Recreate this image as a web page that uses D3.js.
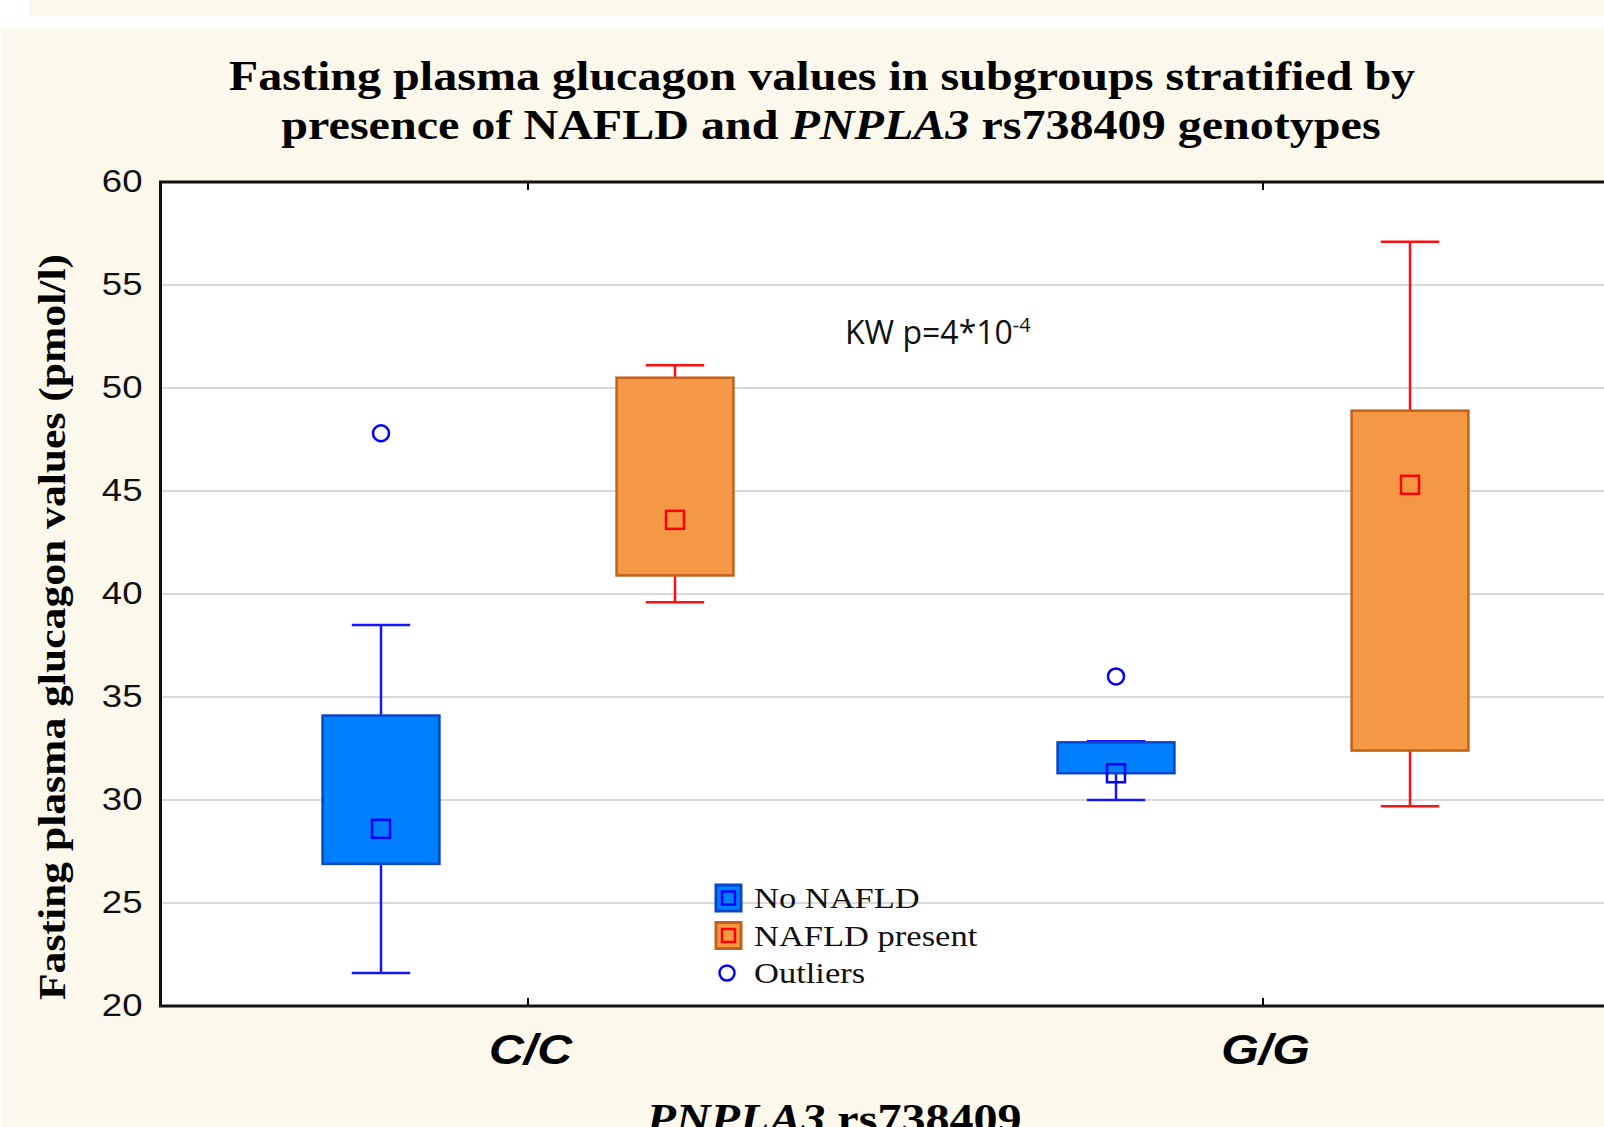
<!DOCTYPE html>
<html lang="en">
<head>
  <meta charset="UTF-8" />
  <title>Fasting plasma glucagon values</title>
  <style>
    body {
      margin: 0;
      background: #ffffff;
      overflow: hidden;
    }
    svg {
      display: block;
    }
    .grid line {
      stroke: #d9d9d9;
      stroke-width: 2;
    }
  </style>
</head>
<body>
  <svg id="chart" width="1604" height="1127"></svg>

  <script src="https://d3js.org/d3.v7.min.js"></script>
  <script>
    // Data
    const genotypes = ["C/C", "G/G"];
    const groups = ["No NAFLD", "NAFLD present"];
    // one entry per genotype, order follows genotypes
    const noNafldMean   = [28.6, 31.3];
    const noNafldQ1     = [26.9, 31.3];
    const noNafldQ3     = [34.1, 32.8];
    const noNafldLow    = [21.6, 30.0];
    const noNafldHigh   = [38.5, 32.85];
    const nafldMean     = [43.6, 45.3];
    const nafldQ1       = [40.9, 32.4];
    const nafldQ3       = [50.5, 48.9];
    const nafldLow      = [39.6, 29.7];
    const nafldHigh     = [51.1, 57.1];
    const outlierGenotype = ["C/C", "G/G"];
    const outlierValue    = [47.8, 36.0];
    const yTicks = [20, 25, 30, 35, 40, 45, 50, 55, 60];

    const svg = d3.select("#chart");
    const W = 1604, H = 1127;
    const serif = "'Liberation Serif', 'Times New Roman', serif";
    const sans = "'Liberation Sans', Arial, sans-serif";
    // the original figure's text is a little wider than the fonts we have
    const stretch = 1.145;

    // background panels
    svg.append("rect").attr("x", 29).attr("y", 0).attr("width", W - 29).attr("height", 16).attr("fill", "#fdf8ec");
    svg.append("rect").attr("x", 2).attr("y", 29).attr("width", W - 2).attr("height", H - 29).attr("fill", "#fdf8ec");

    // plot box
    const plot = { left: 160.5, top: 182, bottom: 1006, right: 1630.5 };
    const x = d3.scaleLinear().domain([-0.5, 1.5]).range([plot.left, plot.right]);
    const y = d3.scaleLinear().domain([20, 60]).range([plot.bottom, plot.top]);
    const offset = 0.2;       // sub-group offset in category units
    const boxW = x(0.159) - x(0);

    svg.append("rect")
      .attr("x", plot.left).attr("y", plot.top)
      .attr("width", plot.right - plot.left).attr("height", plot.bottom - plot.top)
      .attr("fill", "#ffffff");

    // grid lines
    svg.append("g").attr("class", "grid")
      .selectAll("line").data(yTicks.slice(1, -1)).join("line")
      .attr("x1", plot.left).attr("x2", plot.right)
      .attr("y1", d => y(d)).attr("y2", d => y(d));

    // axes
    const yAxis = svg.append("g")
      .attr("transform", `translate(${plot.left},0)`)
      .call(d3.axisLeft(y).tickValues(yTicks).tickSize(0));
    yAxis.select(".domain").remove();
    yAxis.selectAll("text")
      .attr("x", 0)
      .attr("transform", "translate(-18,0) scale(1.18,1)")
      .attr("font-family", sans)
      .attr("font-size", 31)
      .attr("fill", "#111");

    const xAxis = svg.append("g")
      .attr("transform", `translate(0,${plot.bottom})`)
      .call(d3.axisBottom(x).tickValues([0, 1]).tickFormat(i => genotypes[i]).tickSize(0));
    xAxis.select(".domain").remove();
    xAxis.selectAll("text")
      .attr("y", 0).attr("dy", 0)
      .attr("transform", "translate(2,58) scale(1.15,1)")
      .attr("font-family", sans)
      .attr("font-size", 42)
      .attr("font-weight", "bold")
      .attr("font-style", "italic")
      .attr("fill", "#000");

    // small inner ticks at category positions (top and bottom)
    [0, 1].forEach(i => {
      svg.append("line").attr("x1", x(i)).attr("x2", x(i)).attr("y1", plot.bottom).attr("y2", plot.bottom - 8)
        .attr("stroke", "#000").attr("stroke-width", 2);
      svg.append("line").attr("x1", x(i)).attr("x2", x(i)).attr("y1", plot.top).attr("y2", plot.top + 8)
        .attr("stroke", "#000").attr("stroke-width", 2);
    });

    // frame lines
    svg.append("path")
      .attr("d", `M${plot.right},${plot.top}H${plot.left}V${plot.bottom}H${plot.right}`)
      .attr("fill", "none").attr("stroke", "#111").attr("stroke-width", 3);

    // build box records
    const styles = {
      "No NAFLD": { fill: "#0080ff", edge: "#0a46c8", whisk: "#1414ff", mean: "#0000ff" },
      "NAFLD present": { fill: "#f59845", edge: "#c0621a", whisk: "#ff1010", mean: "#ff0000" }
    };
    const boxes = [];
    genotypes.forEach((g, i) => {
      boxes.push({ g: i, grp: groups[0], mean: noNafldMean[i], q1: noNafldQ1[i], q3: noNafldQ3[i], lo: noNafldLow[i], hi: noNafldHigh[i] });
      boxes.push({ g: i, grp: groups[1], mean: nafldMean[i], q1: nafldQ1[i], q3: nafldQ3[i], lo: nafldLow[i], hi: nafldHigh[i] });
    });
    const cx = d => x(d.g + (d.grp === groups[0] ? -offset : offset));

    const bg = svg.append("g");
    boxes.forEach(d => {
      const s = styles[d.grp];
      const c = cx(d);
      const g = bg.append("g");
      // whiskers
      g.append("line").attr("x1", c).attr("x2", c).attr("y1", y(d.q3)).attr("y2", y(d.hi))
        .attr("stroke", s.whisk).attr("stroke-width", 2.5);
      g.append("line").attr("x1", c).attr("x2", c).attr("y1", y(d.q1)).attr("y2", y(d.lo))
        .attr("stroke", s.whisk).attr("stroke-width", 2.5);
      g.append("line").attr("x1", c - boxW / 4).attr("x2", c + boxW / 4).attr("y1", y(d.hi)).attr("y2", y(d.hi))
        .attr("stroke", s.whisk).attr("stroke-width", 2.5);
      g.append("line").attr("x1", c - boxW / 4).attr("x2", c + boxW / 4).attr("y1", y(d.lo)).attr("y2", y(d.lo))
        .attr("stroke", s.whisk).attr("stroke-width", 2.5);
      // box
      g.append("rect")
        .attr("x", c - boxW / 2).attr("y", y(d.q3))
        .attr("width", boxW).attr("height", y(d.q1) - y(d.q3))
        .attr("fill", s.fill).attr("stroke", s.edge).attr("stroke-width", 2.5);
      // mean marker
      g.append("rect")
        .attr("x", c - 9).attr("y", y(d.mean) - 9)
        .attr("width", 18).attr("height", 18)
        .attr("fill", "none").attr("stroke", s.mean).attr("stroke-width", 2.5);
    });

    // outliers
    svg.append("g").selectAll("circle")
      .data(outlierValue.map((v, i) => ({ g: genotypes.indexOf(outlierGenotype[i]), grp: groups[0], v })))
      .join("circle")
      .attr("cx", d => cx(d)).attr("cy", d => y(d.v)).attr("r", 8)
      .attr("fill", "none").attr("stroke", "#0000ff").attr("stroke-width", 2.5);

    // KW annotation
    const kw = svg.append("text")
      .attr("x", 845).attr("y", 344)
      .attr("font-family", "'Open Sans', sans-serif")
      .attr("font-size", 32)
      .attr("fill", "#111");
    kw.append("tspan").text("KW p=4*10");
    kw.append("tspan").attr("dy", -12).attr("font-size", 20).text("-4");

    // legend
    const legend = svg.append("g").attr("font-family", serif).attr("font-size", 29);
    const legendItems = [groups[0], groups[1], "Outliers"];
    legendItems.forEach((name, i) => {
      const cy = 898 + i * 37.5;
      if (i < 2) {
        const s = styles[name];
        legend.append("rect").attr("x", 716).attr("y", cy - 13).attr("width", 25).attr("height", 26)
          .attr("fill", s.fill).attr("stroke", s.edge).attr("stroke-width", 3);
        legend.append("rect").attr("x", 722).attr("y", cy - 6.5).attr("width", 13).attr("height", 13)
          .attr("fill", "none").attr("stroke", s.mean).attr("stroke-width", 2.5);
      } else {
        legend.append("circle").attr("cx", 727).attr("cy", cy).attr("r", 7.5)
          .attr("fill", "none").attr("stroke", "#0000ff").attr("stroke-width", 2.5);
      }
      legend.append("text")
        .attr("transform", `translate(754,${cy + 10}) scale(1.19,1)`)
        .attr("fill", "#111").text(name);
    });

    // title, two lines
    const titleFont = t => t.attr("text-anchor", "middle")
      .attr("font-family", serif).attr("font-size", 42)
      .attr("font-weight", "bold").attr("fill", "#000");
    svg.append("text").call(titleFont)
      .attr("transform", `translate(822,90) scale(${stretch},1)`)
      .text("Fasting plasma glucagon values in subgroups stratified by");
    const t2 = svg.append("text").call(titleFont)
      .attr("transform", `translate(831,139) scale(${stretch},1)`);
    t2.append("tspan").text("presence of NAFLD and ");
    t2.append("tspan").attr("font-style", "italic").text("PNPLA3");
    t2.append("tspan").text(" rs738409 genotypes");

    // y axis title
    svg.append("text")
      .attr("transform", "translate(65,627) rotate(-90) scale(1.118,1)")
      .attr("text-anchor", "middle")
      .attr("font-family", serif)
      .attr("font-size", 39).attr("font-weight", "bold").attr("fill", "#000")
      .text("Fasting plasma glucagon values (pmol/l)");

    // x axis title (cut by the bottom edge, as in the source figure)
    const xt = svg.append("text")
      .attr("transform", `translate(834,1133) scale(${stretch},1)`)
      .attr("text-anchor", "middle")
      .attr("font-family", serif)
      .attr("font-size", 42).attr("font-weight", "bold").attr("fill", "#000");
    xt.append("tspan").attr("font-style", "italic").text("PNPLA3");
    xt.append("tspan").text(" rs738409");
  </script>
</body>
</html>
